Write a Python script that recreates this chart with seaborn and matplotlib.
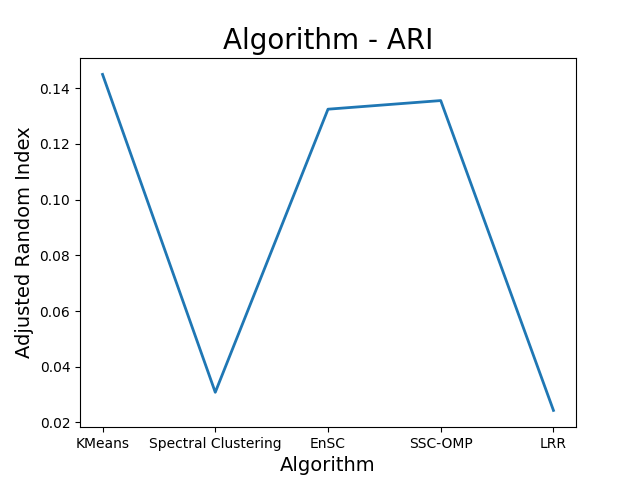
import matplotlib
matplotlib.use("Agg")
import matplotlib.pyplot as plt
import seaborn as sns
import pandas as pd

algorithms = ["KMeans", "Spectral Clustering", "EnSC", "SSC-OMP", "LRR"]
ari = [0.1450, 0.0308, 0.1325, 0.1356, 0.0243]

df = pd.DataFrame({"Algorithm": algorithms, "ARI": ari})

fig, ax = plt.subplots(figsize=(6.4, 4.8), dpi=100)
sns.lineplot(data=df, x="Algorithm", y="ARI", sort=False, linewidth=2, ax=ax)
ax.set_title("Algorithm - ARI", fontsize=20)
ax.set_xlabel("Algorithm", fontsize=14)
ax.set_ylabel("Adjusted Random Index", fontsize=14)
fig.savefig("out.png", dpi=100)
